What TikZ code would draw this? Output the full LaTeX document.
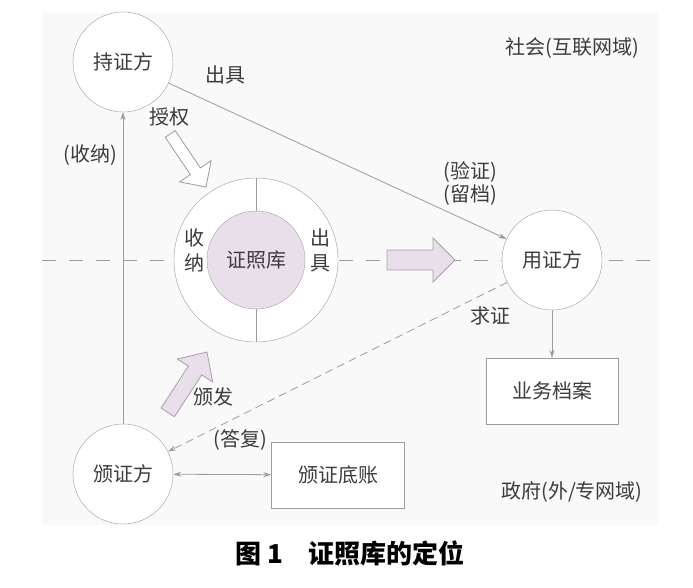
\documentclass[tikz,border=0pt]{standalone}
\usepackage{fontspec}
\usepackage{tikz}
\usetikzlibrary{positioning, arrows.meta, shapes, calc, backgrounds}
\newfontfamily\cjk{Noto Sans CJK SC}
\definecolor{cLine}{HTML}{9C9C9C}
\definecolor{cText}{HTML}{3C3C3C}
\definecolor{cLib}{HTML}{E9DFEA}
\definecolor{cLibEdge}{HTML}{A99FAB}
\definecolor{cPanel}{HTML}{F9F9F9}

\begin{document}
\begin{tikzpicture}[x=1pt, y=-1pt, font=\cjk\fontsize{20}{24}\selectfont, text=cText,
    party/.style={circle, draw=cLine, fill=white, minimum size=100pt, inner sep=0pt},
    record/.style={rectangle, draw=cLine, fill=white, minimum width=132pt, minimum height=66pt},
    conn/.style={draw=cLine, line width=0.8pt, -{Stealth[length=8pt, width=5pt]}},
    fatarrow/.style={draw=cLibEdge, line width=0.8pt, fill=cLib, line join=miter}]
      \useasboundingbox (0,0) rectangle (693,587);
      \fill[cPanel] (42,13) rectangle (658,525);
      \draw[cLine, line width=0.8pt, dash pattern=on 14pt off 13pt] (42,260) -- (658,260);
      % rings and parties
      \node[circle, draw=cLine, fill=white, minimum size=164pt] (lib) at (256,260) {};
      \node[circle, draw=cLibEdge, fill=cLib, minimum size=98pt, inner sep=0pt] (core) at (256,260) {证照库};
      \draw[cLine, line width=0.8pt] (core.north) -- (lib.north);
      \draw[cLine, line width=0.8pt] (core.south) -- (lib.south);
      \node[align=center, inner sep=0pt, font=\cjk\fontsize{20}{25}\selectfont] (intake) at (194,250) {收\\纳};
      \node[align=center, inner sep=0pt, font=\cjk\fontsize{20}{25}\selectfont] (issue) at (320,250) {出\\具};
      \node[party] (holder) at (123,62) {持证方};
      \node[party] (user) at (552,260) {用证方};
      \node[party] (issuer) at (123,474) {颁证方};
      \node[record] (archive) at (552,391) {业务档案};
      \node[record, minimum width=133pt] (ledger) at (338,475) {颁证底账};
      % connectors
      \draw[conn] (holder) -- (user);
      \draw[conn, dash pattern=on 8pt off 5pt] (user) -- (issuer);
      \draw[conn] (issuer) -- (holder);
      \draw[conn] (user) -- (archive);
      \draw[conn, {Stealth[length=8pt, width=5pt]}-{Stealth[length=8pt, width=5pt]}] (issuer) -- (ledger);
      % fat arrows
      \draw[fatarrow, shift={(455,260)}] (-68,10) -- (-22,10) -- (-22,22) -- (0,0) -- (-22,-22) -- (-22,-10) -- (-68,-10) -- cycle;
      \draw[fatarrow, shift={(207,352)}, rotate=57] (-72,8) -- (-22,8) -- (-22,21) -- (0,0) -- (-22,-21) -- (-22,-8) -- (-72,-8) -- cycle;
      \draw[fatarrow, fill=white, draw=cLine, shift={(206,187)}, rotate=-56] (-64,6) -- (-19,6) -- (-19,19) -- (0,0) -- (-19,-19) -- (-19,-6) -- (-64,-6) -- cycle;
      % labels
      \node (lIssue) at (225,75) {出具};
      \node (lGrant) at (169,117) {授权};
      \node (lKeep) at (90,155) {(收纳)};
      \node[align=center, font=\cjk\fontsize{20}{23}\selectfont] (lCheck) at (470,183) {(验证)\\(留档)};
      \node (lAsk) at (490,316) {求证};
      \node (lReply) at (240,440) {(答复)};
      \node (lGive) at (213,397) {颁发};
      \node (lSociety) at (572,48) {社会(互联网域)};
      \node (lGov) at (572,492) {政府(外/专网域)};
      \node[text=black, font=\cjk\fontsize{26}{30}\selectfont\bfseries] (caption) at (350,553) {图 1\quad 证照库的定位};
    \end{tikzpicture}
\end{document}
